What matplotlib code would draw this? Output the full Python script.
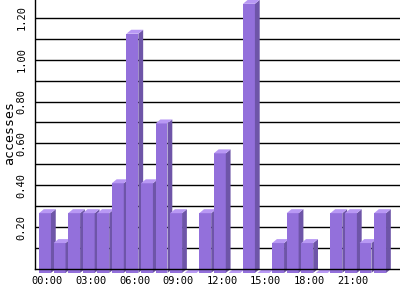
import numpy as np
import matplotlib.pyplot as plt
from matplotlib.patches import Polygon

# hourly accesses (averaged over 7 days)
hours = ["%02d:00" % h for h in range(24)]
counts = [2, 1, 2, 2, 2, 3, 8, 3, 5, 2, 0, 2, 4, 0, 9, 0, 1, 2, 1, 0, 2, 2, 1, 2]
days = 7
values = np.array(counts) / days

front_col = "#9370db"
top_col = "#b898f4"
side_col = "#6e55a8"

fig = plt.figure(figsize=(4, 3), dpi=100)
ax = fig.add_axes([35 / 400, 31 / 300, 365 / 400, 269 / 300])

ax.set_xlim(-0.685, 24.37)
ax.set_ylim(0, 1.285)

# 3d look: depth in data units
w = 0.82
dx = 0.33
dy = 0.019

for i, v in enumerate(values):
    x0 = i - w / 2
    x1 = i + w / 2
    front = Polygon([(x0, -dy), (x1, -dy), (x1, v - dy), (x0, v - dy)],
                    closed=True, fc=front_col, ec="none", clip_on=False, zorder=3)
    side = Polygon([(x1, -dy), (x1 + dx, 0), (x1 + dx, v), (x1, v - dy)],
                   closed=True, fc=side_col, ec="none", clip_on=False, zorder=3)
    top = Polygon([(x0, v - dy), (x1, v - dy), (x1 + dx, v), (x0 + dx, v)],
                  closed=True, fc=top_col, ec="none", clip_on=False, zorder=3)
    ax.add_patch(front)
    ax.add_patch(side)
    ax.add_patch(top)

# grid every 0.1
for g in np.arange(0.1, 1.25, 0.1):
    ax.axhline(g, color="black", lw=1.0, zorder=1)

for s in ["top", "right"]:
    ax.spines[s].set_visible(False)
for s in ["left", "bottom"]:
    ax.spines[s].set_linewidth(1.0)
    ax.spines[s].set_zorder(5)

ytick_vals = [0.2, 0.4, 0.6, 0.8, 1.0, 1.2]
ax.set_yticks(ytick_vals)
ax.set_yticklabels(["%.2f" % t for t in ytick_vals], rotation=90, va="center",
                   family="DejaVu Sans Mono", fontsize=7.5)

xt = list(range(0, 24, 3))
ax.set_xticks([t + 0.15 for t in xt])
ax.set_xticklabels([hours[t] for t in xt], family="DejaVu Sans Mono", fontsize=7.5)

ax.tick_params(axis="x", length=0, pad=5)
ax.tick_params(axis="y", length=0, pad=6)

fig.text(10 / 400, 1 - 133 / 300, "accesses", rotation=90, ha="center", va="center",
         family="DejaVu Sans Mono", fontsize=9.5)

fig.savefig("out.png", dpi=100)
